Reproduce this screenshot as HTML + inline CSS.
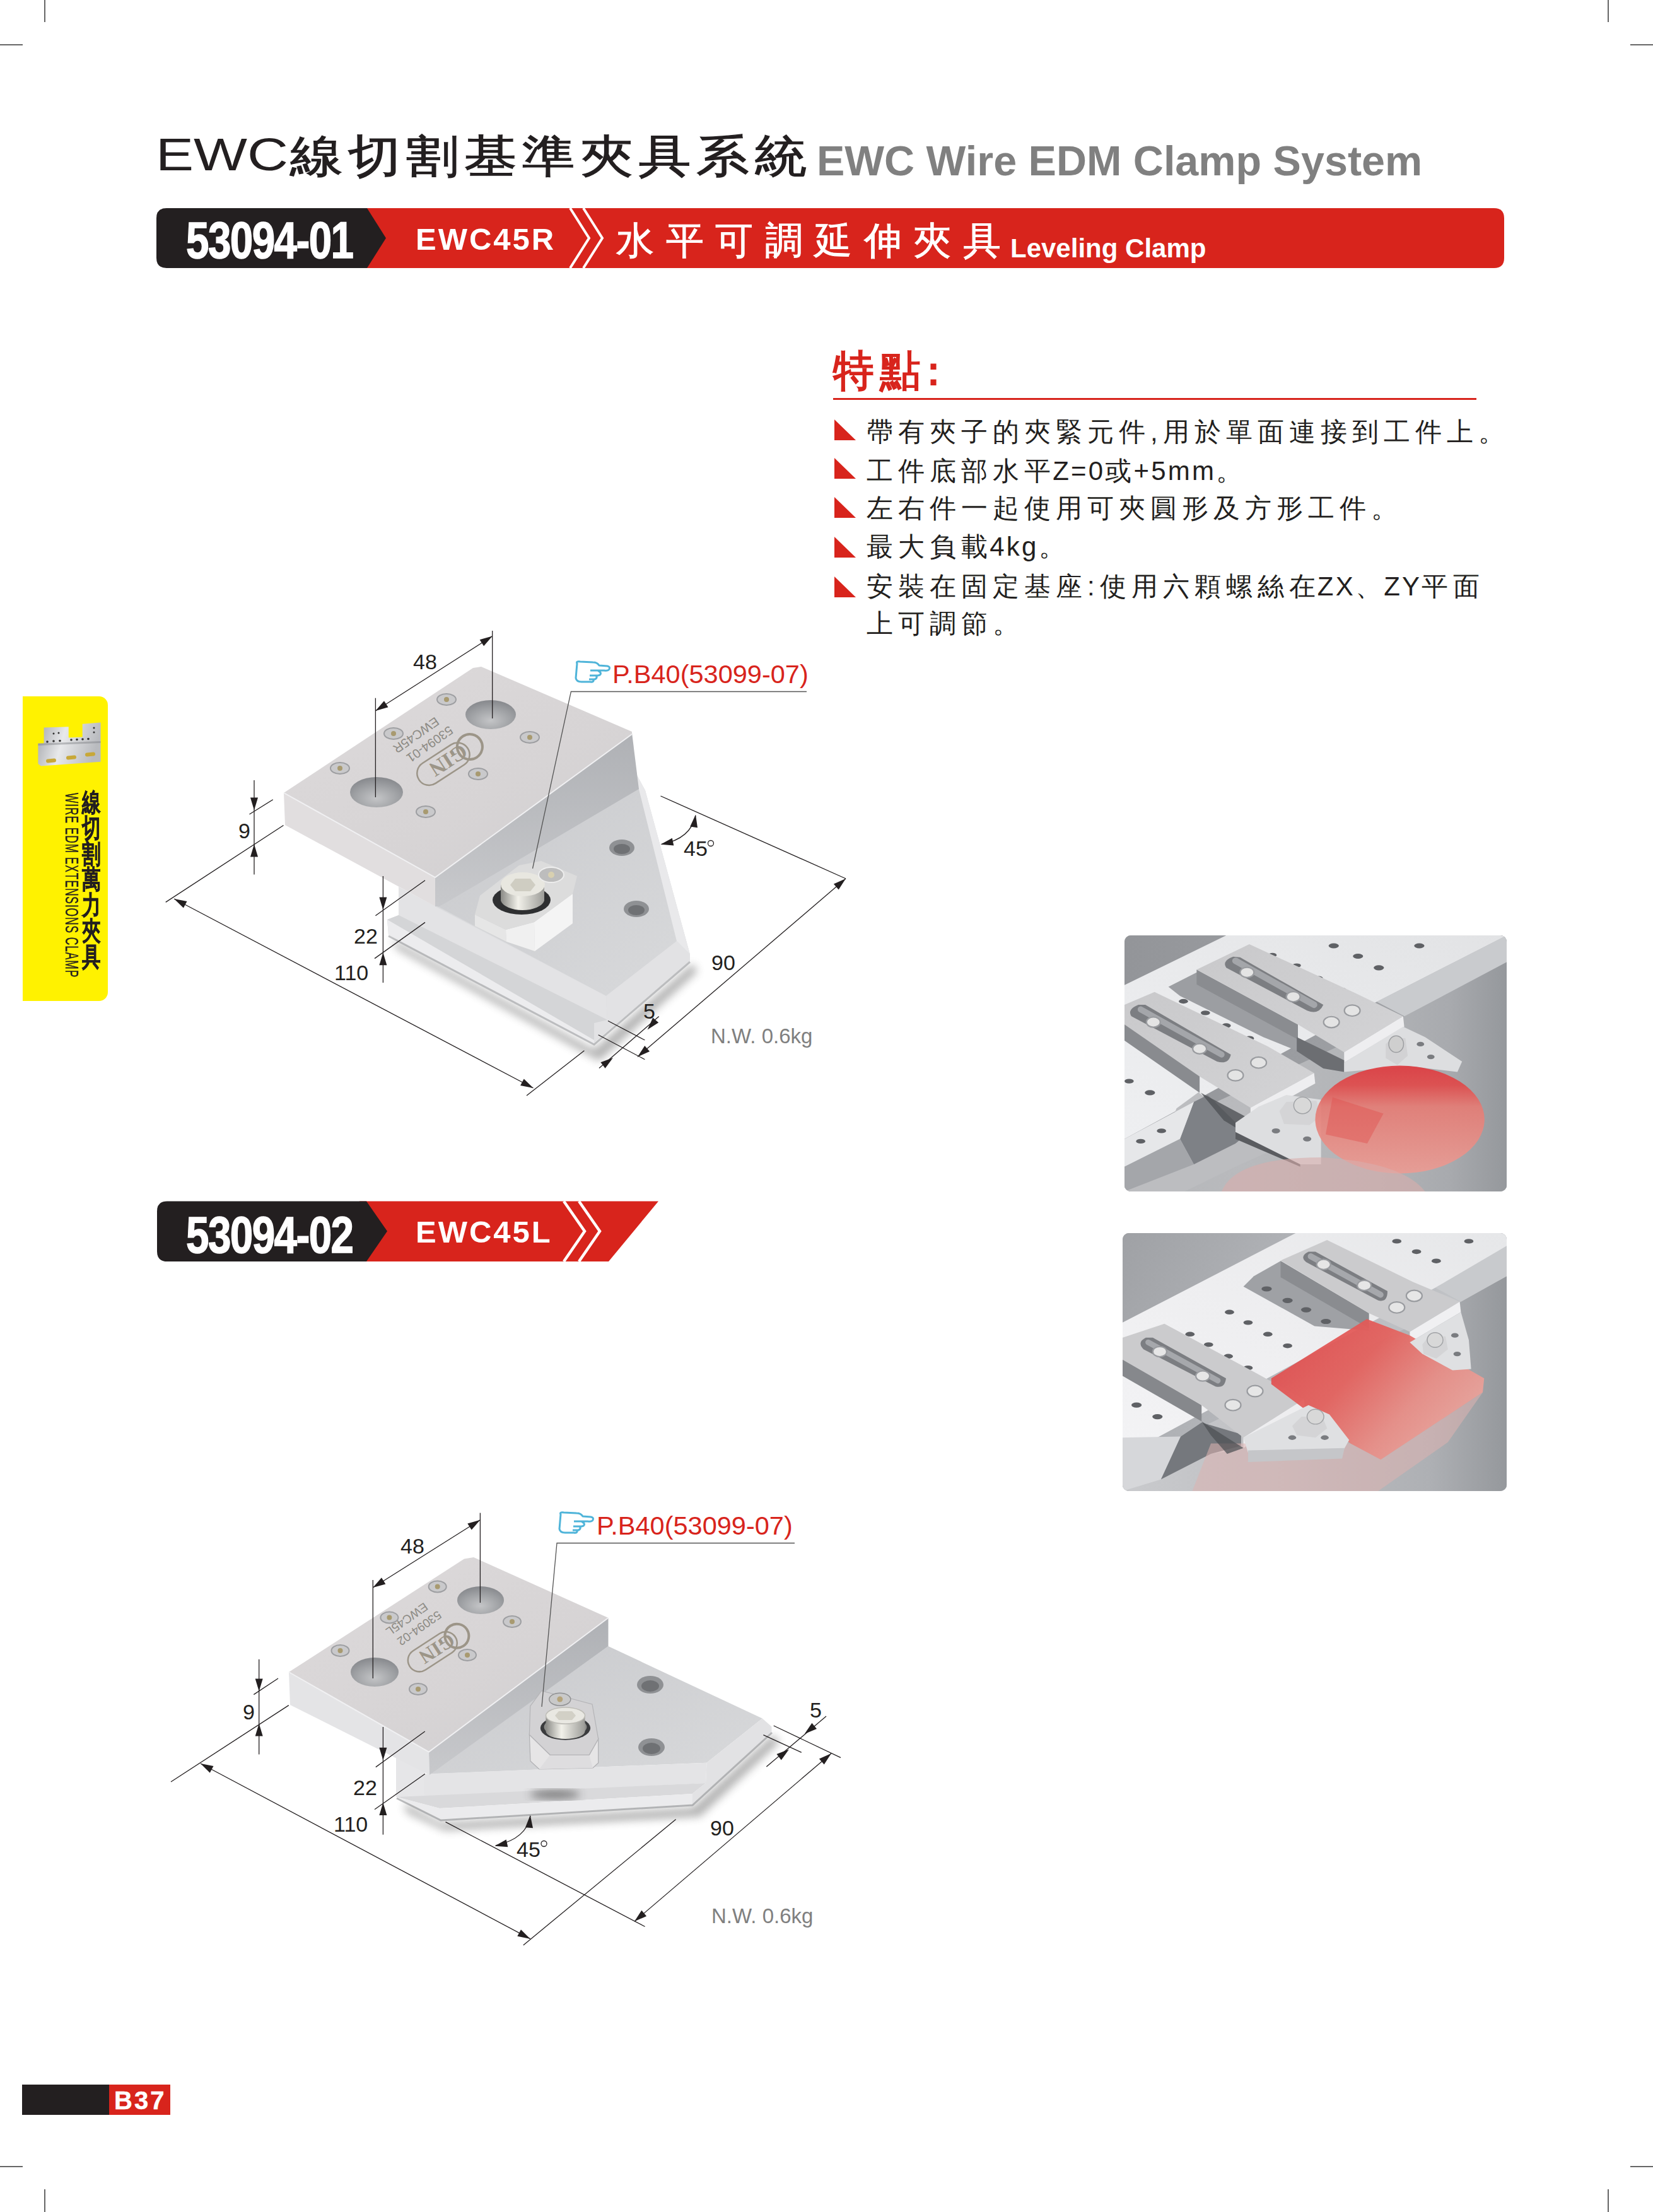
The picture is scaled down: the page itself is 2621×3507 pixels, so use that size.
<!DOCTYPE html>
<html><head><meta charset="utf-8">
<style>
html,body{margin:0;padding:0;background:#fff;}
body{width:2621px;height:3507px;position:relative;overflow:hidden;font-family:"Liberation Sans",sans-serif;}
.a{position:absolute;white-space:nowrap;}
.cm{position:absolute;background:#666;}
#title{left:247px;top:209px;font-size:72px;color:#231f20;line-height:1;}
#title .e{display:inline-block;transform-origin:0 0;}
#tsub{left:1295px;top:222px;font-size:66.5px;font-weight:bold;color:#808080;line-height:1;}
.feat{left:1374px;font-size:42px;color:#231f20;line-height:1;letter-spacing:8px;}
.t{letter-spacing:3.2px}
.tri{position:absolute;width:34px;height:33px;background:#d8241c;clip-path:polygon(0 0,0 100%,100% 100%);}
</style></head>
<body>
<!-- crop marks -->
<div class="cm" style="left:70px;top:0;width:2px;height:35px"></div>
<div class="cm" style="left:0;top:70px;width:36px;height:2px"></div>
<div class="cm" style="left:2549px;top:0;width:2px;height:35px"></div>
<div class="cm" style="left:2585px;top:70px;width:36px;height:2px"></div>
<div class="cm" style="left:0;top:3434px;width:36px;height:2px"></div>
<div class="cm" style="left:70px;top:3471px;width:2px;height:36px"></div>
<div class="cm" style="left:2585px;top:3434px;width:36px;height:2px"></div>
<div class="cm" style="left:2549px;top:3471px;width:2px;height:36px"></div>

<!-- title -->
<div id="title" class="a"><span class="e" style="transform:scaleX(1.25)">EWC</span></div>
<div id="titlecn" class="a" style="left:460px;top:212px;font-size:83px;font-weight:400;-webkit-text-stroke:1.6px #231f20;color:#231f20;line-height:1;letter-spacing:9px;transform:scaleY(0.85);transform-origin:0 0">線切割基準夾具系統</div>
<div id="tsub" class="a">EWC Wire EDM Clamp System</div>

<!-- banner 1 -->
<svg class="a" style="left:0;top:0" width="2621" height="500">
  <path d="M570 330 H2369 Q2385 330 2385 346 V409 Q2385 425 2369 425 H570 Z" fill="#d8241c"/>
  <path d="M264 330 H582 L612 377.5 L582 425 H264 Q248 425 248 409 V346 Q248 330 264 330 Z" fill="#231f20"/>
  <path d="M904 330 L934 377.5 L904 425 M925 330 L955 377.5 L925 425" stroke="#fff" stroke-width="4" fill="none"/>
</svg>
<div class="a" id="b1num" style="left:295px;top:340px;font-size:82px;-webkit-text-stroke:1.5px #fff;font-weight:bold;color:#fff;line-height:1;transform:scaleX(0.8);transform-origin:0 0;letter-spacing:-2px">53094-01</div>
<div class="a" id="b1code" style="left:659px;top:355px;font-size:49px;font-weight:bold;color:#fff;line-height:1;letter-spacing:3px">EWC45R</div>
<div class="a" id="b1cn" style="left:977px;top:352px;font-size:60px;color:#fff;line-height:1;letter-spacing:18.5px;-webkit-text-stroke:1px #fff">水平可調延伸夾具</div>
<div class="a" id="b1en" style="left:1602px;top:373px;font-size:42px;font-weight:bold;color:#fff;line-height:1;">Leveling Clamp</div>

<!-- features -->
<div class="a" id="fhead" style="left:1321px;top:553px;font-size:68px;font-weight:bold;color:#d8241c;line-height:1;letter-spacing:10px;transform:scaleX(0.95);transform-origin:0 0">特點:</div>
<div class="a" style="left:1321px;top:631px;width:1020px;height:3px;background:#d8241c"></div>
<div class="tri" style="left:1323px;top:665px"></div>
<div class="tri" style="left:1323px;top:726px"></div>
<div class="tri" style="left:1323px;top:788px"></div>
<div class="tri" style="left:1323px;top:851px"></div>
<div class="tri" style="left:1323px;top:914px"></div>
<div class="a feat" id="f1" style="top:664px">帶有夾子的夾緊元件,用於單面連接到工件上。</div>
<div class="a feat" id="f2" style="top:726px">工件底部水<span class="t">平Z=0或+5mm。</span></div>
<div class="a feat" id="f3" style="top:785px">左右件一起使用可夾圓形及方形工件。</div>
<div class="a feat" id="f4" style="top:846px">最大負<span class="t">載4kg。</span></div>
<div class="a feat" id="f5" style="top:909px">安裝在固定基座:使用六顆螺絲<span class="t">在ZX、ZY</span>平面</div>
<div class="a feat" id="f6" style="top:968px">上可調節。</div>

<!-- yellow tab -->
<div class="a" style="left:36px;top:1104px;width:135px;height:483px;background:#fff200;border-radius:0 14px 14px 0"></div>
<svg class="a" style="left:55px;top:1140px" width="112" height="80" viewBox="0 0 112 80">
 <defs><linearGradient id="tg" x1="0" y1="0" x2="1" y2="0.2"><stop offset="0" stop-color="#a4a6aa"/><stop offset="0.45" stop-color="#e8e9eb"/><stop offset="1" stop-color="#b9bbbf"/></linearGradient></defs>
 <path d="M5.4 38.8 L14.6 38.5 L14.6 13.4 L53.8 12.3 L53.8 29.6 L75.7 28.4 L75.7 7.7 L104.6 5.4 L104.6 67.7 L10 74.6 L5.4 71 Z" fill="url(#tg)"/>
 <path d="M5.4 38.8 L104.6 35 L104.6 38 L5.4 42 Z" fill="#7d7f83" opacity="0.45"/>
 <rect x="18" y="63" width="16" height="6" rx="3" fill="#c8a838" transform="rotate(-5 26 66)"/>
 <rect x="50" y="58" width="16" height="6" rx="3" fill="#c8a838" transform="rotate(-5 58 61)"/>
 <rect x="80" y="53" width="16" height="6" rx="3" fill="#c8a838" transform="rotate(-5 88 56)"/>
 <g fill="#333"><circle cx="20" cy="36" r="1.8"/><circle cx="30" cy="35" r="1.8"/><circle cx="40" cy="34.5" r="1.8"/><circle cx="58" cy="33" r="1.8"/><circle cx="67" cy="32.5" r="1.8"/><circle cx="76" cy="32" r="1.8"/><circle cx="85" cy="31.5" r="1.8"/><circle cx="94" cy="14" r="1.5"/><circle cx="94" cy="21" r="1.5"/><circle cx="30" cy="23" r="1.5"/><circle cx="38" cy="22" r="1.5"/></g>
</svg>
<div class="a" style="left:130px;top:1252px;width:42px;font-size:41px;font-weight:bold;color:#231f20;-webkit-text-stroke:0.8px #231f20;line-height:40.8px;white-space:normal;word-break:break-all;transform:scaleX(0.72);transform-origin:0 0">線切割萬力夾具</div>
<div class="a" style="left:99px;top:1257px;font-size:29px;color:#231f20;line-height:1;writing-mode:vertical-rl;transform:scaleY(0.60);transform-origin:0 0;letter-spacing:1.5px;-webkit-text-stroke:0.4px #231f20">WIRE EDM EXTENSIONS CLAMP</div>


<!-- product 1 -->
<svg class="a" style="left:250px;top:980px" width="1100" height="800" viewBox="250 980 1100 800">
 <defs>
  <linearGradient id="p1top" x1="0" y1="0" x2="1" y2="1"><stop offset="0" stop-color="#dddadb"/><stop offset="0.6" stop-color="#d7d4d5"/><stop offset="1" stop-color="#d0ced0"/></linearGradient>
  <linearGradient id="p1rf" x1="0" y1="0" x2="0" y2="1"><stop offset="0" stop-color="#afb1b5"/><stop offset="1" stop-color="#c8c9cc"/></linearGradient>
  <filter id="blur8" x="-20%" y="-20%" width="140%" height="140%"><feGaussianBlur stdDeviation="7"/></filter>
  <linearGradient id="p1lo" x1="0" y1="0" x2="1" y2="1"><stop offset="0" stop-color="#c9cacd"/><stop offset="1" stop-color="#d8d9db"/></linearGradient>
  <radialGradient id="hole" cx="0.5" cy="0.7" r="0.65"><stop offset="0" stop-color="#c4c5c7"/><stop offset="0.55" stop-color="#a4a6a9"/><stop offset="1" stop-color="#8a8c90"/></radialGradient>
  <linearGradient id="bolt" x1="0" y1="0" x2="1" y2="0"><stop offset="0" stop-color="#8a8a86"/><stop offset="0.4" stop-color="#f2f1ea"/><stop offset="1" stop-color="#9c9c98"/></linearGradient>
 </defs>
 <path d="M620 1488 L942 1664 L1098 1528 L1106 1540 L950 1682 L630 1505 Z" fill="#555" opacity="0.45" filter="url(#blur8)"/>
 <!-- lower plate -->
 <path d="M632 1406 L690 1437 L696 1438 L1005 1220 L1023 1253 L1094 1513 L1094 1523 L942 1653 L616 1482 L614 1458 L632 1451 Z" fill="#d9dadc"/>
 <path d="M696 1438 L1013 1251 L1073 1492 L961 1579 Z" fill="url(#p1lo)"/>
 <path d="M1005 1220 L1023 1253 L1094 1513 L1073 1492 L1013 1251 Z" fill="#e9e9eb"/>
 <path d="M632 1406 L690 1437 L961 1579 L963 1617 L632 1451 Z" fill="#e3e3e5"/>
 <path d="M614 1458 L632 1451 L963 1617 L942 1649 Z" fill="#d4d5d7"/>
 <path d="M614 1458 L942 1649 L942 1656 L616 1482 Z" fill="#ececee"/>
 <path d="M961 1579 L1073 1492 L1094 1513 L1094 1523 L942 1653 L942 1622 L963 1617 Z" fill="#e2e2e4"/>
 <path d="M616 1484 L942 1656 L1094 1525" stroke="#9a9b9e" stroke-width="3" fill="none" opacity="0.6"/>
 <!-- threaded holes -->
 <ellipse cx="986" cy="1344" rx="20" ry="13" fill="#8f9194"/><ellipse cx="986" cy="1346" rx="13" ry="8" fill="#6f7174"/>
 <ellipse cx="1009" cy="1441" rx="20" ry="13" fill="#8f9194"/><ellipse cx="1009" cy="1443" rx="13" ry="8" fill="#6f7174"/>
 <!-- top plate -->
 <path d="M450 1257 L690 1391 L690 1437 L452 1308 Z" fill="#e1dedf"/>
 <path d="M690 1391 L1002 1162 L1013 1251 L696 1438 L690 1437 Z" fill="url(#p1rf)"/>
 <path d="M750 1059 L763 1057 L1002 1160 L1002 1164 L690 1391 L450 1257 Z" fill="url(#p1top)"/>
 <path d="M450 1257 L690 1391 L1002 1164" stroke="#f0f0f2" stroke-width="2" fill="none"/>
 <!-- holes -->
 <ellipse cx="597" cy="1256" rx="42" ry="24" fill="url(#hole)"/>
 <ellipse cx="778" cy="1133" rx="40" ry="23" fill="url(#hole)"/>
 <g fill="#c9c9cb" stroke="#9d9ea1" stroke-width="2">
  <ellipse cx="539" cy="1218" rx="15" ry="9"/><ellipse cx="624" cy="1163" rx="15" ry="9"/><ellipse cx="708" cy="1109" rx="15" ry="9"/>
  <ellipse cx="840" cy="1169" rx="15" ry="9"/><ellipse cx="758" cy="1227" rx="15" ry="9"/><ellipse cx="675" cy="1287" rx="15" ry="9"/>
 </g>
 <g fill="#a89a70"><circle cx="539" cy="1218" r="4"/><circle cx="624" cy="1163" r="4"/><circle cx="708" cy="1109" r="4"/><circle cx="840" cy="1169" r="4"/><circle cx="758" cy="1227" r="4"/><circle cx="675" cy="1287" r="4"/></g>
 <g transform="translate(712 1150) rotate(145)" fill="#8c8a84" font-family="Liberation Sans" font-size="20"><text x="0" y="0">53094-01</text><text x="10" y="24">EWC45R</text></g>
 <g transform="translate(708 1208) rotate(-33)" fill="none" stroke="#9c9588" stroke-width="2.5"><rect x="-52" y="-19" width="92" height="38" rx="19"/><circle cx="44" cy="0" r="20" stroke-width="4"/></g>
 <g transform="translate(708 1208) rotate(147)" fill="#9c9588" font-family="Liberation Serif" font-weight="bold" font-size="34"><text x="-36" y="12" transform="scale(1 1)">GIN</text></g>
 <!-- nut -->
 <path d="M753 1450 L802 1474 L803 1493 L753 1468 Z" fill="#e6e6e6"/>
 <path d="M802 1474 L847 1462 L848 1508 L803 1493 Z" fill="#f0f0f0"/>
 <path d="M847 1462 L908 1417 L908 1464 L848 1508 Z" fill="#f4f4f4"/>
 <path d="M753 1450 L761 1420 L823 1372 L858 1365 L915 1389 L908 1417 L847 1462 L802 1474 Z" fill="#dcdcdc"/>
 <ellipse cx="827" cy="1427" rx="46" ry="23" fill="#2e2f31"/>
 <path d="M794 1402 L794 1428 A35 18 0 0 0 863 1428 L863 1402 Z" fill="url(#bolt)"/>
 <ellipse cx="829" cy="1402" rx="35" ry="19" fill="#e8e7e0"/>
 <path d="M817 1393 L841 1393 L849 1403 L841 1413 L817 1413 L809 1403 Z" fill="#cfcdc2"/>
 <ellipse cx="874" cy="1387" rx="20" ry="12" fill="#bdbdbd" stroke="#eee" stroke-width="2"/><circle cx="874" cy="1387" r="5" fill="#d8d0b0"/>

<g stroke="#231f20" stroke-width="1.3" fill="none">
<path d="M595.4 1106.7 L595.4 1264.0"/>
<path d="M780.7 1000.0 L780.7 1139.0"/>
<path d="M403.0 1237.0 L403.0 1386.5"/>
<path d="M395.5 1291.0 L432.8 1267.7"/>
<path d="M262.7 1430.4 L449.5 1308.5"/>
<path d="M835.0 1737.0 L926.4 1665.8"/>
<path d="M607.4 1389.0 L607.4 1558.0"/>
<path d="M595.4 1451.7 L674.0 1395.8"/>
<path d="M594.0 1519.6 L674.0 1462.4"/>
<path d="M1047.5 1262.0 L1341.0 1393.0"/>
<path d="M964.0 1618.5 L1022.4 1649.0"/>
<path d="M948.7 1640.8 L1022.4 1679.7"/>
<path d="M595.4 1127.0 L780.7 1008.5"/><path fill="#231f20" stroke="none" d="M595.4 1127.0 L609.0 1111.2 L615.5 1121.3 Z"/><path fill="#231f20" stroke="none" d="M780.7 1008.5 L767.1 1024.3 L760.6 1014.2 Z"/>
<path fill="#231f20" stroke="none" d="M403.0 1284.6 L397.0 1264.6 L409.0 1264.6 Z"/>
<path fill="#231f20" stroke="none" d="M403.0 1338.6 L409.0 1358.6 L397.0 1358.6 Z"/>
<path d="M276.0 1425.0 L845.6 1725.0"/><path fill="#231f20" stroke="none" d="M276.0 1425.0 L296.5 1429.0 L290.9 1439.6 Z"/><path fill="#231f20" stroke="none" d="M845.6 1725.0 L825.1 1721.0 L830.7 1710.4 Z"/>
<path fill="#231f20" stroke="none" d="M607.4 1442.4 L601.4 1422.4 L613.4 1422.4 Z"/>
<path fill="#231f20" stroke="none" d="M607.4 1510.3 L613.4 1530.3 L601.4 1530.3 Z"/>
<path d="M1011.0 1675.5 L1341.0 1393.0"/><path fill="#231f20" stroke="none" d="M1011.0 1675.5 L1022.3 1657.9 L1030.1 1667.1 Z"/><path fill="#231f20" stroke="none" d="M1341.0 1393.0 L1329.7 1410.6 L1321.9 1401.4 Z"/>
<path d="M1049 1338.5 Q1095 1330 1103 1293"/>
<path fill="#231f20" stroke="none" d="M1047.5 1338.8 L1065.8 1328.8 L1068.3 1340.5 Z"/>
<path fill="#231f20" stroke="none" d="M1103.0 1291.5 L1106.0 1312.2 L1094.2 1310.4 Z"/>
<path d="M950.0 1693.6 L1044.7 1611.5"/>
<path fill="#231f20" stroke="none" d="M972.0 1677.0 L959.6 1693.8 L952.4 1684.3 Z"/>
<path fill="#231f20" stroke="none" d="M1026.6 1632.4 L1035.2 1613.4 L1044.2 1621.2 Z"/>
<path d="M844.5 1377 L905.4 1096.5 L1279 1096.5" stroke="#555"/>
</g>
<g font-family="Liberation Sans" font-size="34" fill="#231f20">
 <text x="655" y="1061">48</text>
 <text x="378" y="1329">9</text>
 <text x="561" y="1496">22</text>
 <text x="530" y="1554">110</text>
 <text x="1128" y="1538">90</text>
 <text x="1020" y="1615">5</text>
 <text x="1084" y="1357">45</text>
</g>
<circle cx="1127" cy="1337" r="4.5" fill="none" stroke="#231f20" stroke-width="1.3"/>
<text x="1127" y="1654" font-family="Liberation Sans" font-size="33" fill="#808080">N.W. 0.6kg</text>
<text x="971" y="1083" font-family="Liberation Sans" font-size="41.5" fill="#d8241c">P.B40(53099-07)</text>
<path d="M915 1052 Q913 1048 920 1049 L940 1050 Q947 1050 950 1055 L963 1056 Q968 1057 966 1061 Q964 1064 958 1063 L948 1063 L952 1066 Q954 1070 948 1071 L945 1071 Q948 1075 943 1077 L941 1077 Q942 1082 936 1081 L922 1081 Q914 1081 913 1075 Z M948 1063 L936 1063 M945 1071 L935 1071 M941 1077 L934 1077" fill="none" stroke="#4fb4d9" stroke-width="3" stroke-linejoin="round"/>
</svg>


<!-- banner 2 -->
<svg class="a" style="left:240px;top:1895px" width="820" height="115" viewBox="240 1895 820 115">
  <path d="M570 1904.5 L1044 1904.5 L965 2000 L570 2000 Z" fill="#d8241c"/>
  <path d="M265 1904.5 H581 L614 1952 L581 2000 H265 Q249 2000 249 1984 V1920.5 Q249 1904.5 265 1904.5 Z" fill="#231f20"/>
  <path d="M894 1904.5 L927 1952 L894 2000 M918 1904.5 L951 1952 L918 2000" stroke="#fff" stroke-width="4.5" fill="none"/>
</svg>
<div class="a" style="left:295px;top:1917px;font-size:82px;font-weight:bold;color:#fff;line-height:1;transform:scaleX(0.8);transform-origin:0 0;letter-spacing:-2px;-webkit-text-stroke:1.5px #fff">53094-02</div>
<div class="a" style="left:659px;top:1929px;font-size:49px;font-weight:bold;color:#fff;line-height:1;letter-spacing:3px">EWC45L</div>

<!-- product 2 -->
<svg class="a" style="left:250px;top:2370px" width="1100" height="740" viewBox="250 2370 1100 740">
 <defs>
  <linearGradient id="p2sh" x1="0" y1="0" x2="0" y2="1"><stop offset="0" stop-color="#777" stop-opacity="0.7"/><stop offset="1" stop-color="#fff" stop-opacity="0"/></linearGradient>
 </defs>
 <path d="M640 2858 L700 2890 L1098 2866 L1226 2750 L1236 2762 L1110 2880 L705 2902 L645 2874 Z" fill="#555" opacity="0.45" filter="url(#blur8)"/>
 <!-- lower plate -->
 <path d="M628 2781 L674 2774 L674 2849 L628 2849 Z" fill="#e6e6e8"/>
 <path d="M681 2812.6 L964.5 2610 L1208.8 2724.5 L1120.5 2794.7 Z" fill="url(#p1lo)"/>
 <path d="M672.6 2812.6 L1120.5 2794.7 L1119 2827 L672.6 2849 Z" fill="#e4e4e6"/>

 <path d="M629 2849 L1119 2827 L1097.7 2844 L697 2867 Z" fill="#d9d9db"/>
 <path d="M629 2849 L697 2867 L1097.7 2844 L1098 2860 L699 2884 Z" fill="#ebebed"/>
 <ellipse cx="880" cy="2845" rx="40" ry="7" fill="#3a3a3a" opacity="0.6" filter="url(#blur8)"/>
 <path d="M1120.5 2794.7 L1208.8 2724.5 L1223.5 2737.6 L1223.5 2745.7 L1097.7 2860 L1097.7 2844 L1119 2827 Z" fill="#e2e2e4"/>
 <path d="M629 2851 L699 2886 L1098 2862 L1224 2747" stroke="#8e8f92" stroke-width="3" fill="none" opacity="0.6"/>
 <ellipse cx="1031" cy="2671" rx="21" ry="14" fill="#8f9194"/><ellipse cx="1031" cy="2673" rx="14" ry="9" fill="#6f7174"/>
 <ellipse cx="1033" cy="2770" rx="21" ry="14" fill="#8f9194"/><ellipse cx="1033" cy="2772" rx="14" ry="9" fill="#6f7174"/>
 <!-- top plate -->
 <path d="M458 2651 L680 2777.6 L681 2814 L460 2703 Z" fill="#e4e4e6"/>
 <path d="M680 2777.6 L964.5 2565 L964.5 2610 L681 2814 Z" fill="url(#p1rf)"/>
 <path d="M736 2471.5 L751 2469 L964.5 2565 L680 2777.6 L458 2651 Z" fill="url(#p1top)"/>
 <path d="M458 2651 L680 2777.6 L964.5 2565" stroke="#f0f0f2" stroke-width="2" fill="none"/>
 <ellipse cx="594" cy="2651" rx="38" ry="23" fill="url(#hole)"/>
 <ellipse cx="762" cy="2537" rx="37" ry="22" fill="url(#hole)"/>
 <g fill="#c9c9cb" stroke="#9d9ea1" stroke-width="2">
  <ellipse cx="539.5" cy="2617" rx="14" ry="9"/><ellipse cx="617.4" cy="2564.6" rx="14" ry="9"/><ellipse cx="693.7" cy="2515.5" rx="14" ry="9"/>
  <ellipse cx="812" cy="2571" rx="14" ry="9"/><ellipse cx="741" cy="2624" rx="14" ry="9"/><ellipse cx="663" cy="2678" rx="14" ry="9"/>
 </g>
 <g fill="#a89a70"><circle cx="539.5" cy="2617" r="4"/><circle cx="617.4" cy="2564.6" r="4"/><circle cx="693.7" cy="2515.5" r="4"/><circle cx="812" cy="2571" r="4"/><circle cx="741" cy="2624" r="4"/><circle cx="663" cy="2678" r="4"/></g>
 <g transform="translate(694 2553) rotate(145)" fill="#8c8a84" font-family="Liberation Sans" font-size="19"><text x="0" y="0">53094-02</text><text x="10" y="23">EWC45L</text></g>
 <g transform="translate(690 2616) rotate(-33)" fill="none" stroke="#9c9588" stroke-width="2.5"><rect x="-48" y="-18" width="86" height="36" rx="18"/><circle cx="41" cy="0" r="19" stroke-width="4"/></g>
 <g transform="translate(690 2616) rotate(147)" fill="#9c9588" font-family="Liberation Serif" font-weight="bold" font-size="32"><text x="-34" y="11">GIN</text></g>
 <!-- nut -->
 <path d="M839.4 2750.3 L872.3 2782.3 L934.2 2782.3 L948.7 2757 L948.7 2795 L940 2803 L855 2805 L841 2792 Z" fill="#e6e5e6" stroke="#b0b0b3" stroke-width="1.2"/>
 <path d="M872.3 2782.3 L934.2 2782.3 L940 2803 L855 2805 Z" fill="#dedddf"/>
 <path d="M840.8 2704.8 L858.7 2680.6 L939 2702 L948.7 2757 L934.2 2782.3 L872.3 2782.3 L839.4 2750.3 Z" fill="#d3d2d4" stroke="#b4b4b7" stroke-width="1.2"/>
 <ellipse cx="896.5" cy="2739.7" rx="39.7" ry="19" fill="#3a3b3d"/>
 <ellipse cx="896.5" cy="2738" rx="34" ry="15" fill="#8d8d8a"/>
 <path d="M865.5 2720 L865.5 2745 A31 12 0 0 0 927.5 2745 L927.5 2720 Z" fill="url(#bolt)"/>
 <ellipse cx="896.5" cy="2720" rx="31" ry="13" fill="#e9e8e2" stroke="#bdbcb6" stroke-width="1.5"/>
 <path d="M886 2713 L907 2713 L913 2720 L907 2727 L886 2727 L880 2720 Z" fill="#d2d0c6"/>
 <ellipse cx="887.8" cy="2694.2" rx="17" ry="10" fill="#c9c9c9" stroke="#8f9092" stroke-width="1.5"/><circle cx="887.8" cy="2694" r="4.5" fill="#b5a37a"/>
 <g stroke="#231f20" stroke-width="1.3" fill="none">
<path d="M591.3 2505.0 L591.3 2661.0"/>
<path d="M761.4 2398.6 L761.4 2541.0"/>
<path d="M410.7 2630.7 L410.7 2781.6"/>
<path d="M402.3 2686.6 L441.0 2661.0"/>
<path d="M271.0 2825.0 L457.8 2703.6"/>
<path d="M829.8 3083.9 L1071.6 2884.6"/>
<path d="M607.4 2738.0 L607.4 2908.7"/>
<path d="M595.8 2801.6 L673.8 2745.0"/>
<path d="M594.0 2868.8 L673.8 2812.5"/>
<path d="M706.5 2888.7 L1022.6 3054.5"/>
<path d="M1226.7 2736.0 L1333.0 2786.6"/>
<path d="M1210.4 2750.6 L1270.8 2778.4"/>
<path d="M591.3 2517.0 L761.4 2409.8"/><path fill="#231f20" stroke="none" d="M591.3 2517.0 L605.0 2501.3 L611.4 2511.4 Z"/><path fill="#231f20" stroke="none" d="M761.4 2409.8 L747.7 2425.5 L741.3 2415.4 Z"/>
<path fill="#231f20" stroke="none" d="M410.7 2681.5 L404.7 2661.5 L416.7 2661.5 Z"/>
<path fill="#231f20" stroke="none" d="M410.7 2732.6 L416.7 2752.6 L404.7 2752.6 Z"/>
<path d="M318.0 2796.0 L840.8 3073.9"/><path fill="#231f20" stroke="none" d="M318.0 2796.0 L338.5 2800.1 L332.8 2810.7 Z"/><path fill="#231f20" stroke="none" d="M840.8 3073.9 L820.3 3069.8 L826.0 3059.2 Z"/>
<path fill="#231f20" stroke="none" d="M607.4 2790.7 L601.4 2770.7 L613.4 2770.7 Z"/>
<path fill="#231f20" stroke="none" d="M607.4 2858.0 L613.4 2878.0 L601.4 2878.0 Z"/>
<path d="M786 2926 Q835 2915 841 2879"/>
<path fill="#231f20" stroke="none" d="M784.5 2926.8 L802.7 2916.6 L805.3 2928.3 Z"/>
<path fill="#231f20" stroke="none" d="M840.8 2877.8 L845.0 2898.3 L833.0 2897.2 Z"/>
<path d="M1006.0 3046.3 L1318.0 2780.0"/><path fill="#231f20" stroke="none" d="M1006.0 3046.3 L1017.3 3028.8 L1025.1 3037.9 Z"/><path fill="#231f20" stroke="none" d="M1318.0 2780.0 L1306.7 2797.5 L1298.9 2788.4 Z"/>
<path d="M1215.3 2801.0 L1310.0 2721.0"/>
<path fill="#231f20" stroke="none" d="M1251.0 2773.5 L1238.8 2790.5 L1231.5 2781.0 Z"/>
<path fill="#231f20" stroke="none" d="M1275.7 2749.0 L1287.4 2731.7 L1295.0 2741.0 Z"/>
<path d="M859 2706 L883 2446.5 L1260 2446.5" stroke="#555"/>
 </g>
 <g font-family="Liberation Sans" font-size="34" fill="#231f20">
  <text x="635" y="2463">48</text>
  <text x="385" y="2726">9</text>
  <text x="560" y="2846">22</text>
  <text x="529" y="2904">110</text>
  <text x="1126" y="2910">90</text>
  <text x="1284" y="2723">5</text>
  <text x="819" y="2944">45</text>
 </g>
 <circle cx="862.5" cy="2923" r="4.5" fill="none" stroke="#231f20" stroke-width="1.3"/>
 <text x="1128" y="3049" font-family="Liberation Sans" font-size="33" fill="#808080">N.W. 0.6kg</text>
 <text x="946" y="2433" font-family="Liberation Sans" font-size="41.5" fill="#d8241c">P.B40(53099-07)</text>
 <g transform="translate(-26 1349)">
 <path d="M915 1052 Q913 1048 920 1049 L940 1050 Q947 1050 950 1055 L963 1056 Q968 1057 966 1061 Q964 1064 958 1063 L948 1063 L952 1066 Q954 1070 948 1071 L945 1071 Q948 1075 943 1077 L941 1077 Q942 1082 936 1081 L922 1081 Q914 1081 913 1075 Z M948 1063 L936 1063 M945 1071 L935 1071 M941 1077 L934 1077" fill="none" stroke="#4fb4d9" stroke-width="3" stroke-linejoin="round"/>
 </g>
</svg>

<!-- photos -->
<div class="a" id="ph1" style="left:1783px;top:1483px;width:606px;height:406px;background:#96989c;border-radius:10px;overflow:hidden">
<svg width="606" height="406" viewBox="0 0 1653 1107" preserveAspectRatio="none">
 <defs>
  <linearGradient id="q1bg" x1="0" y1="0" x2="1" y2="0"><stop offset="0" stop-color="#939599"/><stop offset="1" stop-color="#a4a6aa"/></linearGradient>
  <linearGradient id="q1top" x1="0" y1="1" x2="1" y2="0"><stop offset="0" stop-color="#eeeff1"/><stop offset="0.5" stop-color="#e9eaec"/><stop offset="1" stop-color="#e2e3e5"/></linearGradient>
  <linearGradient id="q1front" x1="0" y1="0" x2="1" y2="0"><stop offset="0" stop-color="#b4b6b9"/><stop offset="0.3" stop-color="#b9babd"/><stop offset="0.65" stop-color="#b2b4b7"/><stop offset="0.85" stop-color="#a8aaae"/><stop offset="1" stop-color="#95989c"/></linearGradient>
  <linearGradient id="q1bar" x1="0" y1="0" x2="1" y2="1"><stop offset="0" stop-color="#c9c9cb"/><stop offset="1" stop-color="#d3d3d5"/></linearGradient>
  <linearGradient id="q1red" x1="0" y1="0" x2="0" y2="1"><stop offset="0" stop-color="#de3a3f"/><stop offset="0.18" stop-color="#e04a4a"/><stop offset="0.38" stop-color="#e47c75"/><stop offset="1" stop-color="#ea9c94"/></linearGradient>
 </defs>
 <rect width="1653" height="1107" fill="url(#q1bg)"/>
 <path d="M0 900 L1211 350 L1653 115 L1653 1107 L0 1107 Z" fill="url(#q1front)"/>
 <path d="M1091 287 L1653 0 L1653 115 L1211 350 Z" fill="#c9cbce"/>
 <path d="M0 215 L440 0 L1653 0 L1091 287 L0 880 Z" fill="url(#q1top)"/>
 <!-- dark shadowed face under clamps -->
 <path d="M0 1000 L130 988 L225 748 L320 678 L475 803 L560 850 L700 900 L480 1000 L260 1107 L0 1107 Z" fill="#bcbdc0"/>
 <path d="M240 880 L300 720 L360 690 L475 803 L540 850 L480 900 L300 990 Z" fill="#7e8186"/>
 <path d="M0 880 L300 720 L240 880 L0 1000 Z" fill="#e6e7e9"/>
 <path d="M0 1000 L240 880 L300 990 L0 1107 Z" fill="#a4a6aa"/>
 <g fill="#5f6165"><ellipse cx="70" cy="890" rx="20" ry="10"/><ellipse cx="160" cy="845" rx="20" ry="10"/></g>
 <!-- shadow between bars -->
 <path d="M190 222 L312 160 L750 395 L750 500 L600 440 L240 262 Z" fill="#9c9ea2"/>
 <g fill="#5f6165">
  <ellipse cx="905" cy="45" rx="22" ry="11"/><ellipse cx="1010" cy="90" rx="22" ry="11"/><ellipse cx="1100" cy="140" rx="22" ry="11"/><ellipse cx="1275" cy="45" rx="22" ry="11"/>
  <ellipse cx="640" cy="85" rx="18" ry="9"/><ellipse cx="745" cy="130" rx="18" ry="9"/><ellipse cx="840" cy="185" rx="18" ry="9"/><ellipse cx="940" cy="235" rx="18" ry="9"/>
  <ellipse cx="255" cy="285" rx="20" ry="10"/><ellipse cx="350" cy="335" rx="20" ry="10"/><ellipse cx="440" cy="390" rx="20" ry="10"/><ellipse cx="540" cy="445" rx="20" ry="10"/>
  <ellipse cx="20" cy="630" rx="20" ry="10"/><ellipse cx="110" cy="680" rx="22" ry="11"/>
 </g>
 <!-- bar A -->
 <path d="M312 148 L750 385 L750 450 L312 212 Z" fill="#8a8c90"/>
 <path d="M312 148 L540 38 L1000 250 L1205 350 L950 505 L750 385 Z" fill="url(#q1bar)"/>
 <path d="M950 505 L1205 350 L1210 395 L950 550 Z" fill="#eeeef0"/>
 <path d="M470 92 Q420 110 440 140 L790 325 Q840 345 860 300 L500 95 Z" fill="#7c7e82"/>
 <path d="M480 110 L820 300" stroke="#a4a6aa" stroke-width="28" stroke-linecap="round"/>
 <!-- bar B -->
 <path d="M0 380 L325 605 L325 680 L0 455 Z" fill="#898b8f"/>
 <path d="M0 300 L130 245 L620 480 L820 595 L545 745 L325 610 L0 385 Z" fill="url(#q1bar)"/>
 <path d="M545 745 L820 595 L825 640 L545 795 Z" fill="#eeeef0"/>
 <path d="M60 300 Q10 320 30 350 L400 545 Q450 560 460 515 L90 300 Z" fill="#7c7e82"/>
 <path d="M70 320 L420 515" stroke="#a4a6aa" stroke-width="26" stroke-linecap="round"/>
 <g fill="#e4e4e4" stroke="#9a9ca0" stroke-width="6">
  <ellipse cx="530" cy="160" rx="30" ry="22"/><ellipse cx="730" cy="265" rx="30" ry="22"/>
  <ellipse cx="125" cy="375" rx="30" ry="22"/><ellipse cx="325" cy="490" rx="30" ry="22"/>
  <ellipse cx="985" cy="325" rx="34" ry="24"/><ellipse cx="895" cy="375" rx="34" ry="24"/>
  <ellipse cx="580" cy="550" rx="34" ry="24"/><ellipse cx="480" cy="605" rx="34" ry="24"/>
 </g>
 <!-- dark gaps -->
 <path d="M745 440 L950 540 L950 590 L860 575 L745 500 Z" fill="#6c6e72"/>
 <path d="M330 680 L545 795 L480 830 L430 800 Z" fill="#4f5155" opacity="0.8"/>
 <!-- upper fixture -->
 <path d="M950 550 L1205 395 L1300 440 L1460 545 L1440 590 L1230 565 L950 590 Z" fill="#dddee0"/>
 <path d="M1130 470 L1160 440 L1215 445 L1225 520 L1180 560 L1130 530 Z" fill="#d2d2d4"/>
 <ellipse cx="1175" cy="470" rx="32" ry="36" fill="#cfcfcf" stroke="#9c9ea1" stroke-width="4"/>
 <ellipse cx="1280" cy="470" rx="16" ry="10" fill="#7a7c80"/><ellipse cx="1325" cy="525" rx="16" ry="10" fill="#7a7c80"/>
 <!-- lower fixture -->
 <path d="M480 810 L580 740 L700 690 L850 710 L850 990 L760 990 L480 870 Z" fill="#dddee0"/>
 <path d="M480 850 L760 990 L760 1000 L480 880 Z" fill="#5a5c60"/>
 <path d="M670 760 L700 720 L830 715 L850 780 L800 820 L690 815 Z" fill="#d4d4d6"/>
 <ellipse cx="770" cy="735" rx="38" ry="36" fill="#d8d8d8" stroke="#a0a2a5" stroke-width="4"/>
 <ellipse cx="655" cy="845" rx="18" ry="11" fill="#7a7c80"/><ellipse cx="790" cy="880" rx="18" ry="11" fill="#7a7c80"/>
 <!-- red disc -->
 <ellipse cx="1191" cy="796" rx="366" ry="233" fill="url(#q1red)" opacity="0.92"/>
 <path d="M900 700 L1120 770 L1050 900 L870 860 Z" fill="#e1524f" opacity="0.45"/>
 <path d="M420 1107 Q480 960 850 960 Q1200 980 1300 1107 Z" fill="#d8aeab" opacity="0.6"/>
</svg></div>
<div class="a" id="ph2" style="left:1780px;top:1955px;width:609px;height:409px;background:#96989c;border-radius:10px;overflow:hidden">
<svg width="609" height="409" viewBox="0 0 1653 1110" preserveAspectRatio="none">
 <defs>
  <linearGradient id="q2bg" x1="0" y1="0" x2="1" y2="0.4"><stop offset="0" stop-color="#9fa1a5"/><stop offset="0.6" stop-color="#b9bbbf"/><stop offset="1" stop-color="#c6c8cb"/></linearGradient>
  <linearGradient id="q2top" x1="0" y1="1" x2="1" y2="0"><stop offset="0" stop-color="#f3f3f5"/><stop offset="0.5" stop-color="#eeeef0"/><stop offset="1" stop-color="#e6e7e9"/></linearGradient>
  <linearGradient id="q2front" x1="0" y1="0" x2="1" y2="0"><stop offset="0" stop-color="#c9cacd"/><stop offset="0.4" stop-color="#bfc0c3"/><stop offset="0.8" stop-color="#aeb0b4"/><stop offset="1" stop-color="#95989c"/></linearGradient>
  <linearGradient id="q2red" x1="0" y1="0" x2="1" y2="0.6"><stop offset="0" stop-color="#df4548"/><stop offset="0.45" stop-color="#e4605c"/><stop offset="0.75" stop-color="#e88d86"/><stop offset="1" stop-color="#eba59d"/></linearGradient>
 </defs>
 <rect width="1653" height="1110" fill="url(#q2bg)"/>
 <path d="M0 1110 L0 1000 L1456 295 L1653 185 L1653 1110 Z" fill="url(#q2front)"/>
 <path d="M1346 235 L1653 55 L1653 185 L1456 295 Z" fill="#c8cacd"/>
 <path d="M0 385 L745 0 L1653 0 L1653 55 L1346 235 L0 960 Z" fill="url(#q2top)"/>
 <!-- shadow left of bar A -->
 <path d="M520 230 L565 185 L680 120 L1060 345 L1060 420 L826 400 Z" fill="#9fa1a5"/>
 <!-- dark face under lower clamp -->
 <path d="M0 880 L250 875 L340 815 L510 865 L510 930 L380 950 L165 1060 L0 1110 Z" fill="#d6d7da"/>
 <path d="M165 1060 L250 875 L340 815 L510 865 L510 915 L380 950 Z" fill="#75787d"/>
 <g fill="#5f6165">
  <ellipse cx="1180" cy="35" rx="20" ry="10"/><ellipse cx="1265" cy="80" rx="20" ry="10"/><ellipse cx="1350" cy="120" rx="20" ry="10"/><ellipse cx="1490" cy="35" rx="20" ry="10"/>
  <ellipse cx="620" cy="240" rx="22" ry="11"/><ellipse cx="710" cy="290" rx="22" ry="11"/><ellipse cx="790" cy="330" rx="22" ry="11"/><ellipse cx="875" cy="380" rx="22" ry="11"/>
  <ellipse cx="460" cy="340" rx="20" ry="10"/><ellipse cx="540" cy="385" rx="20" ry="10"/><ellipse cx="625" cy="435" rx="20" ry="10"/><ellipse cx="710" cy="485" rx="20" ry="10"/>
  <ellipse cx="290" cy="435" rx="20" ry="10"/><ellipse cx="370" cy="480" rx="20" ry="10"/><ellipse cx="455" cy="530" rx="20" ry="10"/><ellipse cx="540" cy="580" rx="20" ry="10"/>
  <ellipse cx="60" cy="740" rx="22" ry="11"/><ellipse cx="150" cy="790" rx="22" ry="11"/>
 </g>
 <!-- bar A -->
 <path d="M680 120 L1060 345 L1060 410 L680 190 Z" fill="#8a8c90"/>
 <path d="M680 118 L880 30 L1250 210 L1451 295 L1236 425 L1060 345 Z" fill="#cbcbcd"/>
 <path d="M1236 425 L1451 295 L1456 340 L1236 470 Z" fill="#f0f0f2"/>
 <path d="M800 80 Q760 100 790 125 L1100 290 Q1140 300 1140 250 L830 80 Z" fill="#7c7e82"/>
 <path d="M810 100 L1110 265" stroke="#a6a8ac" stroke-width="26" stroke-linecap="round"/>
 <!-- bar B -->
 <path d="M0 540 L340 740 L340 810 L0 615 Z" fill="#86888c"/>
 <path d="M0 450 L180 390 L570 600 L780 715 L520 880 L340 740 L0 545 Z" fill="#cbcbcd"/>
 <path d="M520 880 L780 715 L785 760 L520 925 Z" fill="#eeeef0"/>
 <path d="M100 450 Q60 470 90 500 L400 660 Q440 670 445 625 L130 450 Z" fill="#7c7e82"/>
 <path d="M110 470 L410 635" stroke="#a6a8ac" stroke-width="24" stroke-linecap="round"/>
 <g fill="#e6e6e6" stroke="#9a9ca0" stroke-width="6">
  <ellipse cx="865" cy="135" rx="30" ry="22"/><ellipse cx="1040" cy="225" rx="30" ry="22"/>
  <ellipse cx="160" cy="510" rx="30" ry="22"/><ellipse cx="345" cy="615" rx="30" ry="22"/>
  <ellipse cx="1255" cy="270" rx="34" ry="24"/><ellipse cx="1180" cy="320" rx="34" ry="24"/>
  <ellipse cx="570" cy="680" rx="34" ry="24"/><ellipse cx="475" cy="740" rx="34" ry="24"/>
 </g>
 <!-- red plate -->
 <path d="M640 625 L1051 370 L1236 440 L1460 570 L1556 625 L1550 685 L1111 975 L980 905 L640 650 Z" fill="url(#q2red)" opacity="0.93"/>
 <path d="M380 905 L980 905 L1111 975 L1550 685 L1400 900 L1100 1110 L300 1110 Z" fill="#dcb3b0" opacity="0.55"/>
 <!-- upper fixture -->
 <path d="M1236 470 L1456 340 L1490 460 L1500 585 L1420 590 L1290 520 Z" fill="#dfe0e2"/>
 <path d="M1290 480 L1320 440 L1390 445 L1400 500 L1350 540 L1295 520 Z" fill="#d4d4d6"/>
 <ellipse cx="1345" cy="460" rx="34" ry="32" fill="#d8d8d8" stroke="#a0a2a5" stroke-width="4"/>
 <ellipse cx="1430" cy="440" rx="16" ry="10" fill="#7a7c80"/><ellipse cx="1440" cy="520" rx="16" ry="10" fill="#7a7c80"/>
 <!-- lower fixture -->
 <path d="M520 880 L700 790 L800 740 L890 780 L975 890 L950 935 L540 945 Z" fill="#dfe0e2"/>
 <path d="M540 935 L955 925 L945 970 L540 985 Z" fill="#c5c6c9"/>
 <path d="M730 830 L770 790 L860 790 L880 840 L830 880 L750 870 Z" fill="#d4d4d6"/>
 <ellipse cx="830" cy="790" rx="36" ry="32" fill="#d8d8d8" stroke="#a0a2a5" stroke-width="4"/>
 <ellipse cx="730" cy="880" rx="17" ry="10" fill="#7a7c80"/><ellipse cx="870" cy="880" rx="17" ry="10" fill="#7a7c80"/>
 <path d="M340 810 L520 925 L450 950 L380 870 Z" fill="#4f5155" opacity="0.75"/>
</svg></div>

<!-- page label -->
<div class="a" style="left:35px;top:3305px;width:138px;height:48px;background:#231f20"></div>
<div class="a" style="left:173px;top:3305px;width:97px;height:48px;background:#d8241c"></div>
<div class="a" style="left:181px;top:3310px;font-size:40px;font-weight:bold;color:#fff;line-height:1;letter-spacing:3px;-webkit-text-stroke:0.5px #fff">B37</div>
</body></html>
